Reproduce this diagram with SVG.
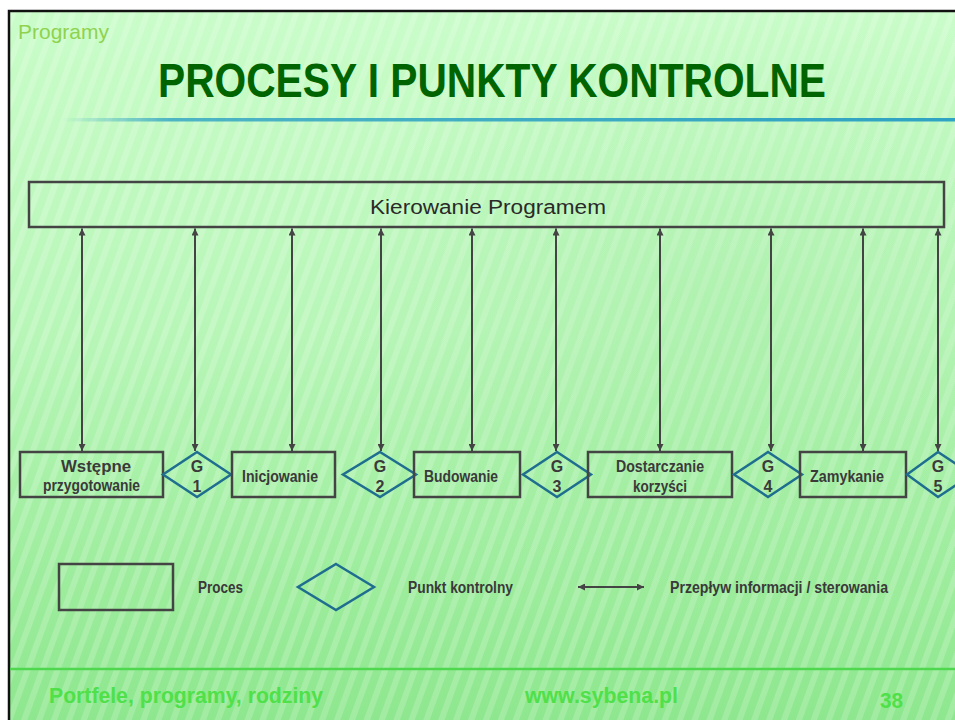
<svg xmlns="http://www.w3.org/2000/svg" width="955" height="720" viewBox="0 0 955 720">
  <defs>
    <linearGradient id="bg" x1="0" y1="0" x2="0" y2="1">
      <stop offset="0" stop-color="#c9fcc9"/>
      <stop offset="0.45" stop-color="#b8f6b8"/>
      <stop offset="1" stop-color="#8ee78e"/>
    </linearGradient>
    <pattern id="stripes" width="14" height="14" patternUnits="userSpaceOnUse" patternTransform="rotate(20)">
      <rect width="6" height="14" fill="#ffffff" opacity="0.18"/>
    </pattern>
    <radialGradient id="halo" cx="0.78" cy="0.42" r="0.45">
      <stop offset="0" stop-color="#7ed87e" stop-opacity="0.18"/>
      <stop offset="1" stop-color="#7ed87e" stop-opacity="0"/>
    </radialGradient>
    <linearGradient id="rule" x1="0" y1="0" x2="1" y2="0">
      <stop offset="0" stop-color="#2fa3c3" stop-opacity="0"/>
      <stop offset="0.12" stop-color="#2fa3c3" stop-opacity="0.8"/>
      <stop offset="1" stop-color="#2fa3c3"/>
    </linearGradient>
    <marker id="ah" viewBox="0 0 10 10" refX="10" refY="5" markerWidth="8" markerHeight="7" markerUnits="userSpaceOnUse" orient="auto-start-reverse">
      <path d="M0,0 L10,5 L0,10 Z" fill="#444"/>
    </marker>
    <style>
      .proc { fill: none; stroke: #444; stroke-width: 2.5; }
      .gate { fill: none; stroke: #1f6e90; stroke-width: 2.5; stroke-linejoin: miter; }
      .lbl { font-family: "Liberation Sans", Arial, sans-serif; font-weight: bold; font-size: 16px; fill: #3a3a3a; text-anchor: middle; }
      .leg { font-family: "Liberation Sans", Arial, sans-serif; font-weight: bold; font-size: 16px; fill: #3a3a3a; }
      .flow { stroke: #444; stroke-width: 2; marker-start: url(#ah); marker-end: url(#ah); }
      .foot { font-family: "Liberation Sans", Arial, sans-serif; font-weight: bold; font-size: 22px; fill: #4fe04a; }
    </style>
  </defs>

  <!-- slide background -->
  <rect width="955" height="720" fill="#ffffff"/>
  <rect x="9" y="11" width="946" height="709" fill="url(#bg)"/>
  <rect x="9" y="11" width="946" height="709" fill="url(#stripes)"/>
  <rect x="9" y="11" width="946" height="709" fill="url(#halo)"/>
  <path d="M9,720 V11 H955" fill="none" stroke="#111" stroke-width="2.5"/>

  <!-- header -->
  <text x="18" y="39" font-family="Liberation Sans, Arial, sans-serif" font-size="21" fill="#8fd24e">Programy</text>
  <text x="158" y="97" textLength="668" lengthAdjust="spacingAndGlyphs" font-family="Liberation Sans, Arial, sans-serif" font-weight="bold" font-size="48" fill="#006400">PROCESY I PUNKTY KONTROLNE</text>
  <rect x="62" y="118" width="893" height="3.5" fill="url(#rule)"/>

  <!-- steering node -->
  <g id="kierowanie">
    <rect class="proc" x="29" y="182" width="915" height="45"/>
    <text x="370" y="214" textLength="236" lengthAdjust="spacingAndGlyphs" font-family="Liberation Sans, Arial, sans-serif" font-size="20" fill="#2a2a2a">Kierowanie Programem</text>
  </g>

  <!-- information / control flows -->
  <g id="connectors">
    <line class="flow" x1="82" y1="228.5" x2="82" y2="451"/>
    <line class="flow" x1="195" y1="228.5" x2="195" y2="451"/>
    <line class="flow" x1="292" y1="228.5" x2="292" y2="451"/>
    <line class="flow" x1="381" y1="228.5" x2="381" y2="451"/>
    <line class="flow" x1="472" y1="228.5" x2="472" y2="451"/>
    <line class="flow" x1="556" y1="228.5" x2="556" y2="451"/>
    <line class="flow" x1="660" y1="228.5" x2="660" y2="451"/>
    <line class="flow" x1="771" y1="228.5" x2="771" y2="451"/>
    <line class="flow" x1="863" y1="228.5" x2="863" y2="451"/>
    <line class="flow" x1="938" y1="228.5" x2="938" y2="451"/>
  </g>

  <!-- process steps and gates -->
  <g id="wstepne">
    <rect class="proc" x="20" y="452" width="143" height="45"/>
    <text class="lbl" x="96" y="472" textLength="70" lengthAdjust="spacingAndGlyphs">Wstępne</text>
    <text class="lbl" x="91.5" y="491" textLength="97" lengthAdjust="spacingAndGlyphs">przygotowanie</text>
  </g>
  <g id="g1">
    <polygon class="gate" points="197,452 231,474.5 197,497 163,474.5"/>
    <text class="lbl" x="197" y="472">G</text>
    <text class="lbl" x="197" y="492">1</text>
  </g>
  <g id="inicjowanie">
    <rect class="proc" x="232" y="452" width="103" height="45"/>
    <text class="lbl" x="280" y="482" textLength="76" lengthAdjust="spacingAndGlyphs">Inicjowanie</text>
  </g>
  <g id="g2">
    <polygon class="gate" points="380,452 416,474.5 380,497 343,474.5"/>
    <text class="lbl" x="380" y="472">G</text>
    <text class="lbl" x="380" y="492">2</text>
  </g>
  <g id="budowanie">
    <rect class="proc" x="414" y="452" width="106" height="45"/>
    <text class="lbl" x="461" y="482" textLength="74" lengthAdjust="spacingAndGlyphs">Budowanie</text>
  </g>
  <g id="g3">
    <polygon class="gate" points="557,452 591,474.5 557,497 523,474.5"/>
    <text class="lbl" x="557" y="472">G</text>
    <text class="lbl" x="557" y="492">3</text>
  </g>
  <g id="dostarczanie">
    <rect class="proc" x="588" y="452" width="144" height="45"/>
    <text class="lbl" x="660" y="472" textLength="88" lengthAdjust="spacingAndGlyphs">Dostarczanie</text>
    <text class="lbl" x="660" y="492" textLength="54" lengthAdjust="spacingAndGlyphs">korzyści</text>
  </g>
  <g id="g4">
    <polygon class="gate" points="768,452 802,474.5 768,497 734,474.5"/>
    <text class="lbl" x="768" y="472">G</text>
    <text class="lbl" x="768" y="492">4</text>
  </g>
  <g id="zamykanie">
    <rect class="proc" x="800" y="452" width="106" height="45"/>
    <text class="lbl" x="847" y="482" textLength="74" lengthAdjust="spacingAndGlyphs">Zamykanie</text>
  </g>
  <g id="g5">
    <polygon class="gate" points="938,452 972,474.5 938,497 907,474.5"/>
    <text class="lbl" x="938" y="472">G</text>
    <text class="lbl" x="938" y="492">5</text>
  </g>

  <!-- legend -->
  <g id="legend-proces">
    <rect class="proc" x="59" y="564" width="114" height="46"/>
    <text class="leg" x="198" y="593" textLength="45" lengthAdjust="spacingAndGlyphs">Proces</text>
  </g>
  <g id="legend-punkt">
    <polygon class="gate" points="336,564 374,587 336,610 298,587"/>
    <text class="leg" x="408" y="593" textLength="105" lengthAdjust="spacingAndGlyphs">Punkt kontrolny</text>
  </g>
  <g id="legend-przeplyw">
    <line class="flow" x1="578" y1="587" x2="644" y2="587"/>
    <text class="leg" x="670" y="593" textLength="218" lengthAdjust="spacingAndGlyphs">Przepływ informacji / sterowania</text>
  </g>

  <!-- footer -->
  <line x1="10" y1="669" x2="955" y2="669" stroke="#4fd84f" stroke-width="2.5"/>
  <text class="foot" x="49" y="703" textLength="274" lengthAdjust="spacingAndGlyphs">Portfele, programy, rodziny</text>
  <text class="foot" x="525" y="703" textLength="153" lengthAdjust="spacingAndGlyphs">www.sybena.pl</text>
  <text class="foot" x="880" y="708" textLength="23" lengthAdjust="spacingAndGlyphs">38</text>
</svg>
